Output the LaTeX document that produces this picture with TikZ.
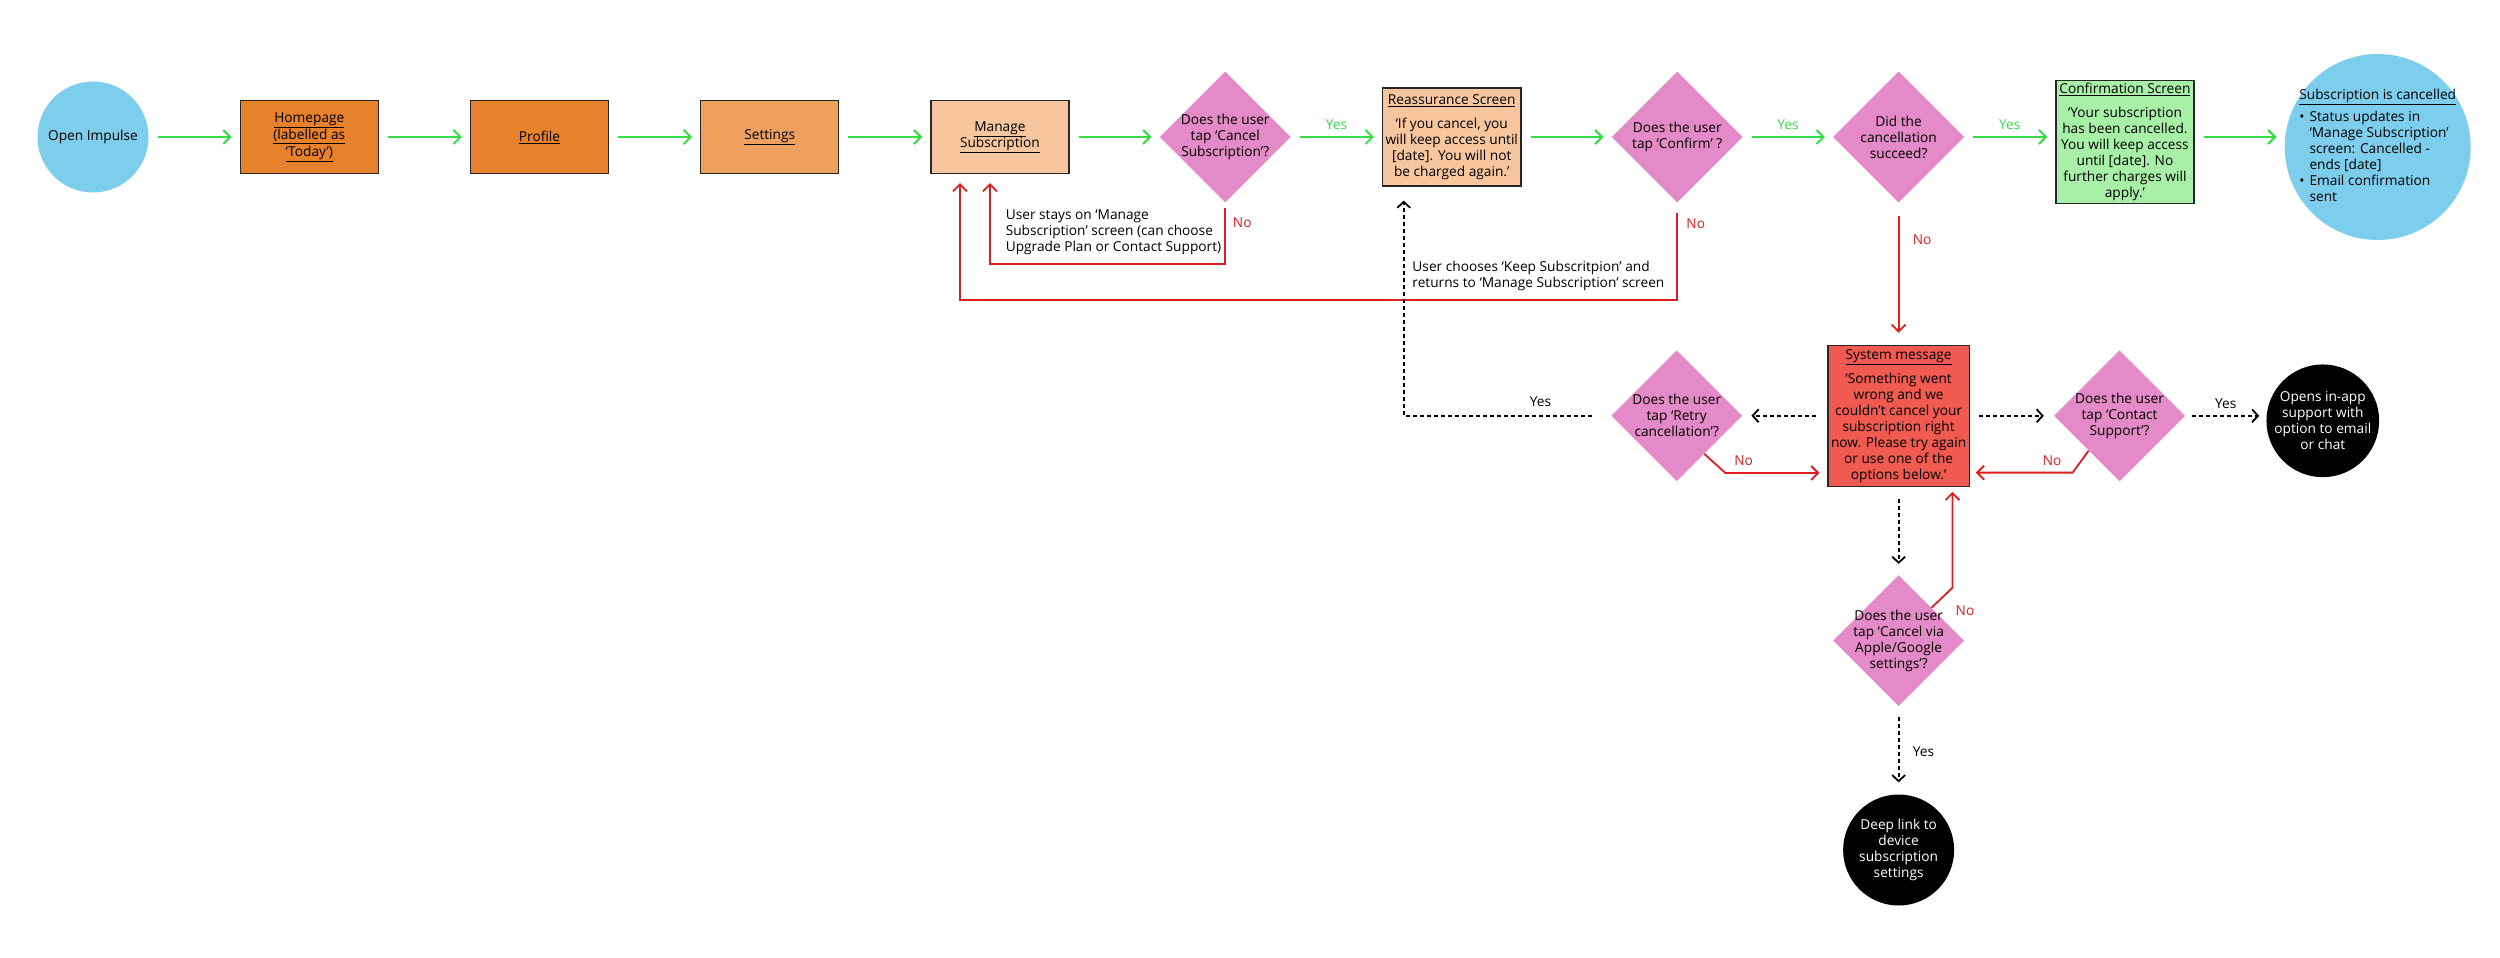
\documentclass[tikz,border=0pt]{standalone}
\usepackage{fontspec}
\setmainfont{Open Sans}
\usetikzlibrary{arrows.meta,positioning,shapes.geometric,calc}
\definecolor{skyc}{RGB}{125,205,237}
\definecolor{orgc}{RGB}{232,129,44}
\definecolor{orglc}{RGB}{238,160,95}
\definecolor{peachc}{RGB}{248,198,158}
\definecolor{pinkc}{RGB}{228,138,200}
\definecolor{mintc}{RGB}{168,240,168}
\definecolor{coralc}{RGB}{240,90,80}
\definecolor{yesc}{RGB}{51,221,68}
\definecolor{noc}{RGB}{220,30,30}
\tikzset{
  every node/.style={font=\fontsize{13.7}{16}\selectfont},
  term/.style={circle, fill=skyc, minimum size=111pt, inner sep=0pt, align=center},
  endpt/.style={circle, fill=black, text=white, minimum size=111pt, inner sep=0pt, align=center},
  scr/.style={draw=black!85, line width=1.2pt, rectangle, minimum width=138pt, minimum height=73pt, inner sep=3pt, align=center},
  dec/.style={diamond, aspect=1, fill=pinkc, minimum width=131pt, minimum height=131pt, inner sep=-12pt, align=center},
  note/.style={text=black, align=left, inner sep=2pt},
  ylbl/.style={text=yesc},
  nlbl/.style={text=noc},
  yarr/.style={-{Straight Barb[length=7pt,width=14pt]}, yesc, line width=2pt, shorten <=9pt, shorten >=8pt},
  narr/.style={-{Straight Barb[length=7pt,width=14pt]}, noc, line width=1.8pt},
  darr/.style={-{Straight Barb[length=6pt,width=13pt]}, black, line width=1.8pt, dash pattern=on 4pt off 3pt},
}
\begin{document}
\begin{tikzpicture}[node distance=91pt]

\fill[white] (0pt,0pt) rectangle (2500pt,-958pt);
\useasboundingbox (0pt,0pt) rectangle (2500pt,-958pt);

\node[term] (open) at (93pt,-137pt) {Open Impulse};
\node[scr, fill=orgc, right=of open] (home) {\underline{Homepage}\\[1pt]\underline{(labelled as}\\[1pt]\underline{‘Today’)}};
\node[scr, fill=orgc, right=of home] (prof) {\underline{Profile}};
\node[scr, fill=orglc, right=of prof] (sett) {\underline{Settings}};
\node[scr, fill=peachc, right=of sett] (manage) {\underline{Manage}\\\underline{Subscription}};
\node[dec, right=90pt of manage] (qcancel) {Does the user\\tap ‘Cancel\\Subscription’?};
\node[scr, fill=peachc, minimum height=98pt, right=of qcancel] (reass) {\underline{Reassurance Screen}\\[8pt]‘If you cancel, you\\will keep access until\\{}[date]. You will not\\be charged again.’};
\node[dec, right=90pt of reass] (qconfirm) {Does the user\\tap ‘Confirm’ ?};
\node[dec, right=90pt of qconfirm] (qsucceed) {Did the\\cancellation\\succeed?};
\node[scr, fill=mintc, minimum height=123pt, right=of qsucceed, yshift=-5pt] (confirm) {\underline{Confirmation Screen}\\[8pt]‘Your subscription\\has been cancelled.\\You will keep access\\until [date]. No\\further charges will\\apply.’};
\node[term, minimum size=186pt, inner sep=-12pt, right=90pt of confirm, yshift=-5pt] (done) {\begin{tabular}{@{}l@{\hspace{5pt}}l@{}}
\multicolumn{2}{@{}l@{}}{\underline{Subscription is cancelled}}\\[6pt]
\textbullet & Status updates in\\
 & ‘Manage Subscription’\\
 & screen: Cancelled -\\
 & ends [date]\\
\textbullet & Email confirmation\\
 & sent
\end{tabular}};

\node[scr, fill=coralc, minimum height=141pt, below=142pt of qsucceed] (sysmsg) {\underline{System message}\\[8pt]‘Something went\\wrong and we\\couldn’t cancel your\\subscription right\\now. Please try again\\or use one of the\\options below.’};
\node[dec, left=85pt of sysmsg] (qretry) {Does the user\\tap ‘Retry\\cancellation’?};
\node[dec, right=84pt of sysmsg] (qcontact) {Does the user\\tap ‘Contact\\Support’?};
\node[endpt, right=81pt of qcontact, yshift=-5pt] (support) {Opens in-app\\support with\\option to email\\or chat};
\node[dec, below=88pt of sysmsg] (qstore) {Does the user\\tap ‘Cancel via\\Apple/Google\\settings’?};
\node[endpt, below=88pt of qstore] (deeplink) {Deep link to\\device\\subscription\\settings};

\draw[yarr] (open) -- (home);
\draw[yarr] (home) -- (prof);
\draw[yarr] (prof) -- (sett);
\draw[yarr] (sett) -- (manage);
\draw[yarr] (manage) -- (qcancel);
\draw[yarr] (qcancel) -- node[ylbl, above=3pt] {Yes} (reass);
\draw[yarr] (reass) -- (qconfirm);
\draw[yarr] (qconfirm) -- node[ylbl, above=3pt] {Yes} (qsucceed);
\draw[yarr] (qsucceed.east) -- node[ylbl, above=3pt] {Yes} (qsucceed.east -| confirm.west);
\draw[yarr] (confirm.east |- qsucceed.east) -- (done.west |- qsucceed.east);

\draw[narr] ([yshift=-5pt]qcancel.south) -- ++(0pt,-56pt) node[nlbl, pos=0.27, right=3.5pt] {No}
  -| ([xshift=-10pt,yshift=-9pt]manage.south)
  node[note, pos=0.5, anchor=south west, xshift=13pt, yshift=6pt] {User stays on ‘Manage\\Subscription’ screen (can choose\\Upgrade Plan or Contact Support)};
\draw[narr] ([yshift=-10pt]qconfirm.south) -- ++(0pt,-87pt) node[nlbl, pos=0.13, right=5pt] {No}
  node[note, pos=1, anchor=south east, xshift=-10pt, yshift=6pt] {User chooses ‘Keep Subscritpion’ and\\returns to ‘Manage Subscription’ screen}
  -| ([xshift=-40pt,yshift=-9pt]manage.south);
\draw[narr, shorten <=13pt, shorten >=12pt] (qsucceed.south) -- node[nlbl, pos=0.26, right=10pt] {No} (sysmsg.north);

\draw[darr, shorten <=11pt, shorten >=9pt] (sysmsg) -- (qretry);
\draw[darr, shorten <=9pt, shorten >=10pt] (sysmsg) -- (qcontact);
\draw[darr, shorten <=7pt, shorten >=7pt] (qcontact.east) -- node[above=3pt] {Yes} (support.west |- qcontact.east);
\draw[darr, shorten <=12pt, shorten >=11pt] (sysmsg) -- (qstore);
\draw[darr, shorten <=11pt, shorten >=12pt] (qstore) -- node[pos=0.51, right=10pt] {Yes} (deeplink);
\draw[darr, shorten <=19pt, shorten >=14pt] (qretry.west) -| node[pos=0.17, above=5pt] {Yes} ([xshift=-48pt]reass.south);

\draw[narr, shorten >=8pt] ($(qretry.south)!0.42!(qretry.east)$) -- ++(21pt,-19pt) coordinate (r1)
  -- (sysmsg.west |- r1) node[nlbl, pos=0.18, above=3pt] {No};
\draw[narr, shorten >=6pt] ($(qcontact.south)!0.47!(qcontact.west)$) -- ++(-16pt,-22pt) coordinate (r2)
  -- (sysmsg.east |- r2) node[nlbl, pos=0.2, above=3pt] {No};
\draw[narr, shorten >=5pt] ($(qstore.north)!0.5!(qstore.east)$) -- ++(21pt,20pt) coordinate (r3)
  node[nlbl, anchor=north west, shift={(-1pt,-14pt)}] {No}
  -- (r3 |- sysmsg.south);

\end{tikzpicture}
\end{document}
